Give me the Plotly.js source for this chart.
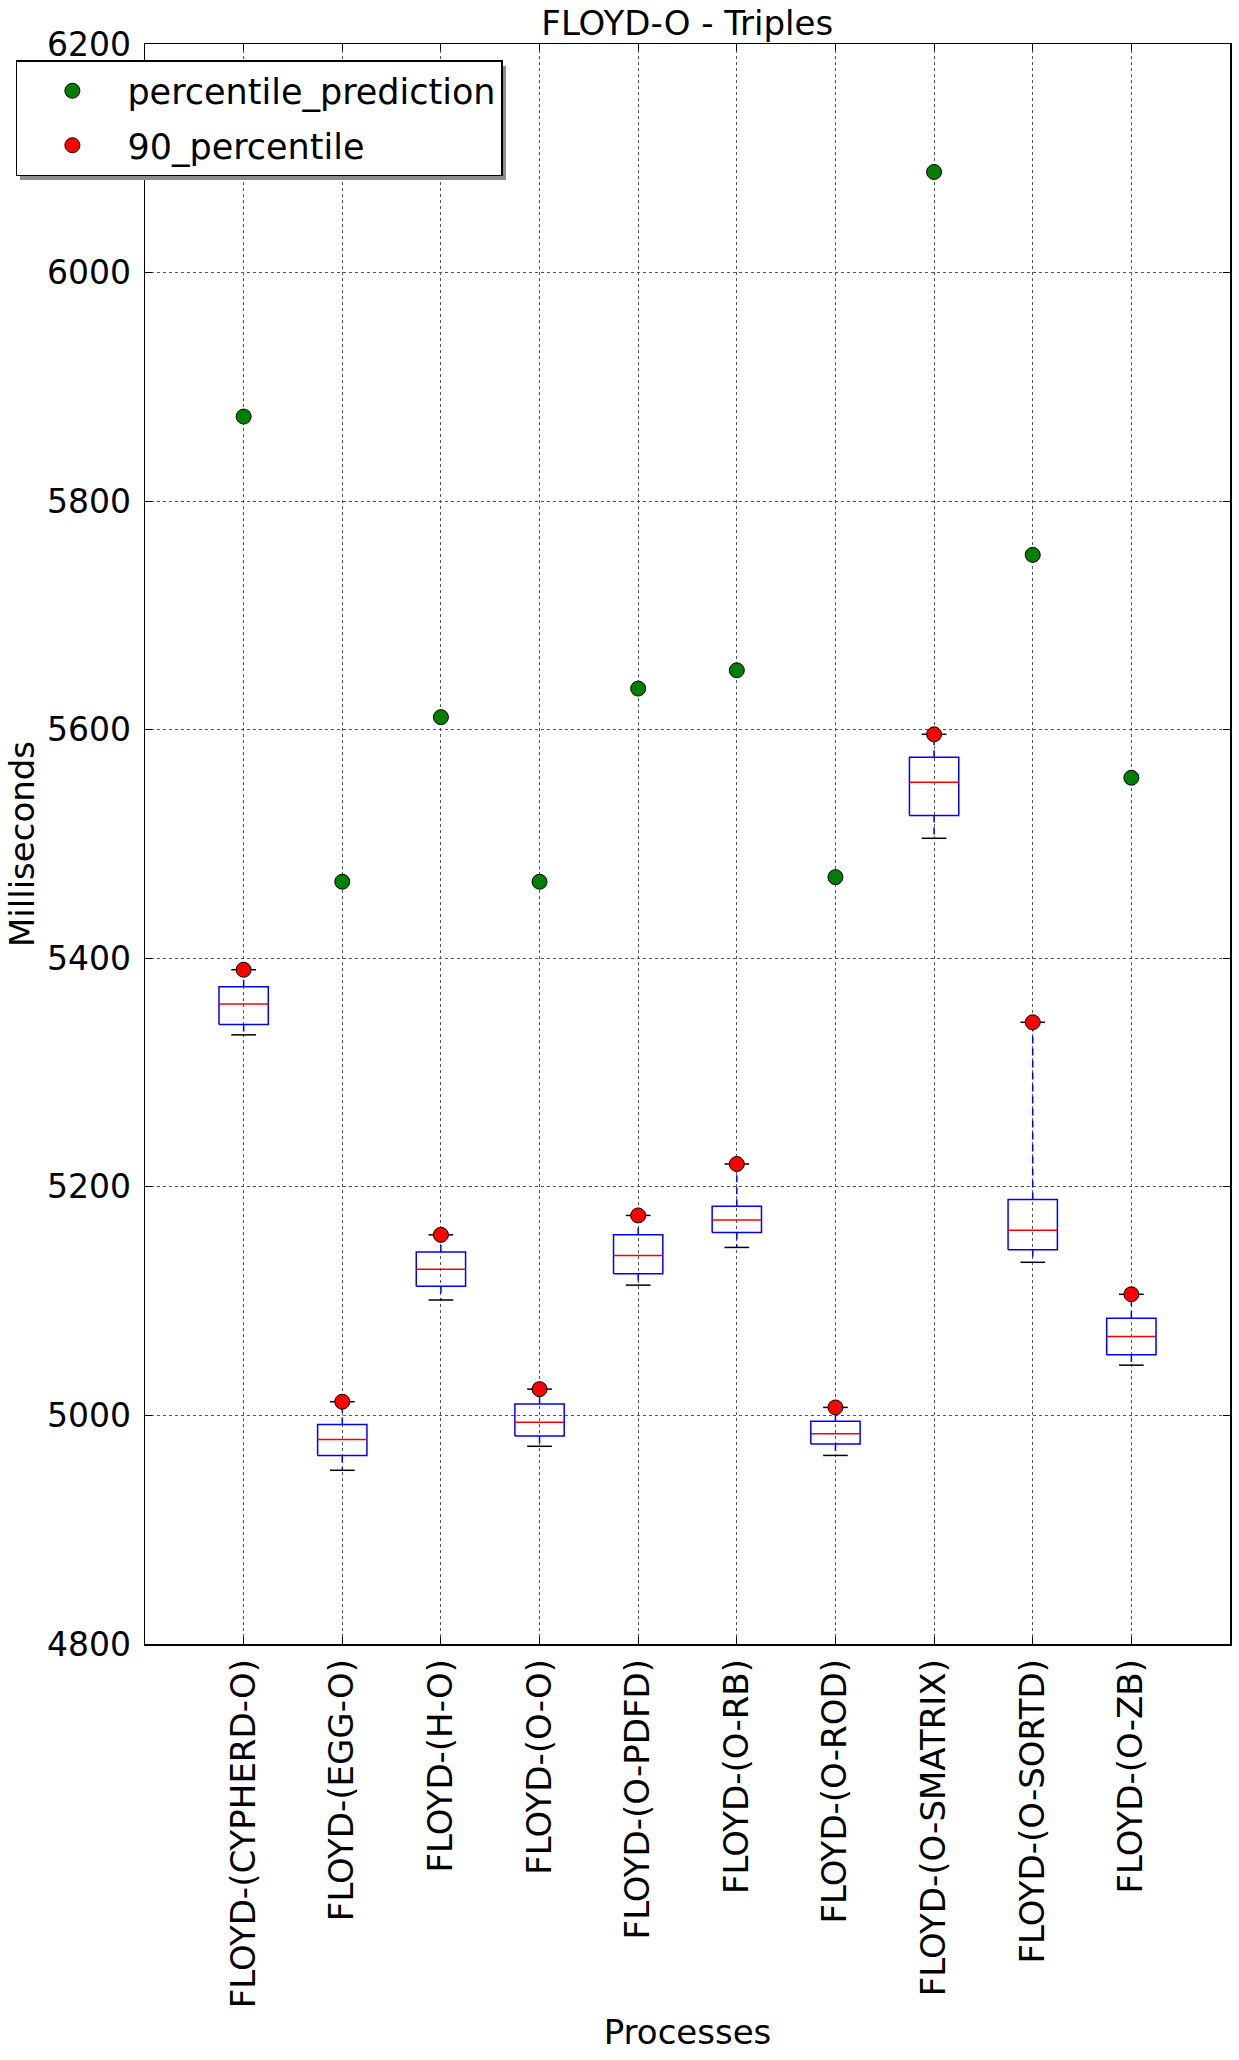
<!DOCTYPE html>
<html>
<head>
<meta charset="utf-8">
<script src="https://cdn.plot.ly/plotly-3.0.1.min.js"></script>
<style>
  html, body { margin: 0; padding: 0; background: #ffffff; }
  #chart { width: 1239px; height: 2060px; }
</style>
</head>
<body>
<div id="chart"></div>
<script>
// ---- data ----
const categories = [
  "FLOYD-(CYPHERD-O)", "FLOYD-(EGG-O)", "FLOYD-(H-O)", "FLOYD-(O-O)",
  "FLOYD-(O-PDFD)", "FLOYD-(O-RB)", "FLOYD-(O-ROD)", "FLOYD-(O-SMATRIX)",
  "FLOYD-(O-SORTD)", "FLOYD-(O-ZB)"
];
const whiskerLow  = [5333, 4952, 5101, 4973, 5114, 5147, 4965, 5505, 5134, 5044];
const q1          = [5342, 4965, 5113, 4982, 5124, 5160, 4975, 5525, 5145, 5053];
const median      = [5360, 4979, 5128, 4994, 5140, 5171, 4984, 5554, 5162, 5069];
const q3          = [5375, 4992, 5143, 5010, 5158, 5183, 4995, 5576, 5189, 5085];
const whiskerHigh = [5390, 5012, 5158, 5023, 5175, 5220, 5007, 5596, 5344, 5106];
const percentile90 = [5390, 5012, 5158, 5023, 5175, 5220, 5007, 5596, 5344, 5106];
const percentilePrediction = [5874, 5467, 5611, 5467, 5636, 5652, 5471, 6088, 5753, 5558];
const yTicks = [4800, 5000, 5200, 5400, 5600, 5800, 6000, 6200];

// ---- build box-plot pieces (matplotlib style) ----
const pos = categories.map((c, i) => i + 1);
const halfBox = 0.25, halfCap = 0.125;
const boxX = [], boxY = [], medX = [], medY = [], whX = [], whY = [], capX = [], capY = [];
pos.forEach((p, i) => {
  boxX.push(p - halfBox, p + halfBox, p + halfBox, p - halfBox, p - halfBox, null);
  boxY.push(q1[i], q1[i], q3[i], q3[i], q1[i], null);
  medX.push(p - halfBox, p + halfBox, null);
  medY.push(median[i], median[i], null);
  whX.push(p, p, null, p, p, null);
  whY.push(q1[i], whiskerLow[i], null, q3[i], whiskerHigh[i], null);
  capX.push(p - halfCap, p + halfCap, null, p - halfCap, p + halfCap, null);
  capY.push(whiskerLow[i], whiskerLow[i], null, whiskerHigh[i], whiskerHigh[i], null);
});

const FONT = "DejaVu Sans, Liberation Sans, sans-serif";

const traces = [
  { type: "scatter", mode: "lines", x: whX, y: whY, showlegend: false, hoverinfo: "skip",
    line: { color: "#0000ff", width: 1.5, dash: "7px,5px" } },
  { type: "scatter", mode: "lines", x: capX, y: capY, showlegend: false, hoverinfo: "skip",
    line: { color: "#000000", width: 1.5 } },
  { type: "scatter", mode: "lines", x: boxX, y: boxY, showlegend: false, hoverinfo: "skip",
    line: { color: "#0000ff", width: 1.5 } },
  { type: "scatter", mode: "lines", x: medX, y: medY, showlegend: false, hoverinfo: "skip",
    line: { color: "#ff0000", width: 1.5 } },
  { type: "scatter", mode: "markers", name: "percentile_prediction", legendgroup: "pp",
    x: pos, y: percentilePrediction,
    marker: { color: "#007f00", size: 15, line: { color: "#000000", width: 1 } } },
  { type: "scatter", mode: "markers", name: "90_percentile", legendgroup: "p90",
    x: pos, y: percentile90,
    marker: { color: "#ff0000", size: 15, line: { color: "#000000", width: 1 } } }
];

const layout = {
  width: 1239, height: 2060,
  margin: { l: 145, r: 9, t: 44, b: 416 },
  paper_bgcolor: "#ffffff", plot_bgcolor: "#ffffff",
  font: { family: FONT, size: 33, color: "#000000" },
  title: { text: "FLOYD-O - Triples", font: { family: FONT, size: 34, color: "#000000" },
           x: 0.5547, xanchor: "center", yref: "container", y: 0.9888, yanchor: "middle" },
  showlegend: true,
  legend: {
    x: -0.119, y: 0.990, xanchor: "left", yanchor: "top",
    bgcolor: "#ffffff", bordercolor: "#000000", borderwidth: 1.5,
    font: { family: FONT, size: 35, color: "#000000" },
    itemwidth: 100, tracegroupgap: 6, traceorder: "grouped"
  },
  shapes: [
    { type: "rect", xref: "paper", yref: "paper", layer: "above",
      x0: -0.1152, x1: 0.3327, y0: 0.9150, y1: 0.9862,
      fillcolor: "#8c8c8c", line: { width: 0 } }
  ],
  xaxis: {
    range: [0, categories.length + 1],
    tickmode: "array", tickvals: pos, ticktext: categories, tickangle: -90,
    tickfont: { family: FONT, size: 34 },
    showline: true, linecolor: "#000000", linewidth: 1.5, mirror: "ticks",
    ticks: "inside", ticklen: 7, tickcolor: "#000000",
    showgrid: true, gridcolor: "#555555", gridwidth: 1, griddash: "dot",
    zeroline: false, automargin: false,
    title: { text: "Processes", font: { family: FONT, size: 34 }, standoff: 13 }
  },
  yaxis: {
    range: [4800, 6200],
    tickmode: "array", tickvals: yTicks, ticktext: yTicks.map(String),
    tickfont: { family: FONT, size: 33 },
    showline: true, linecolor: "#000000", linewidth: 1.5, mirror: "ticks",
    ticks: "inside", ticklen: 7, tickcolor: "#000000",
    ticklabelstandoff: 6,
    showgrid: true, gridcolor: "#555555", gridwidth: 1, griddash: "dot",
    zeroline: false, automargin: false,
    title: { text: "Milliseconds", font: { family: FONT, size: 34 }, standoff: 2 }
  },
  hovermode: false
};

Plotly.newPlot("chart", traces, layout, { displayModeBar: false, staticPlot: true });
</script>
</body>
</html>
